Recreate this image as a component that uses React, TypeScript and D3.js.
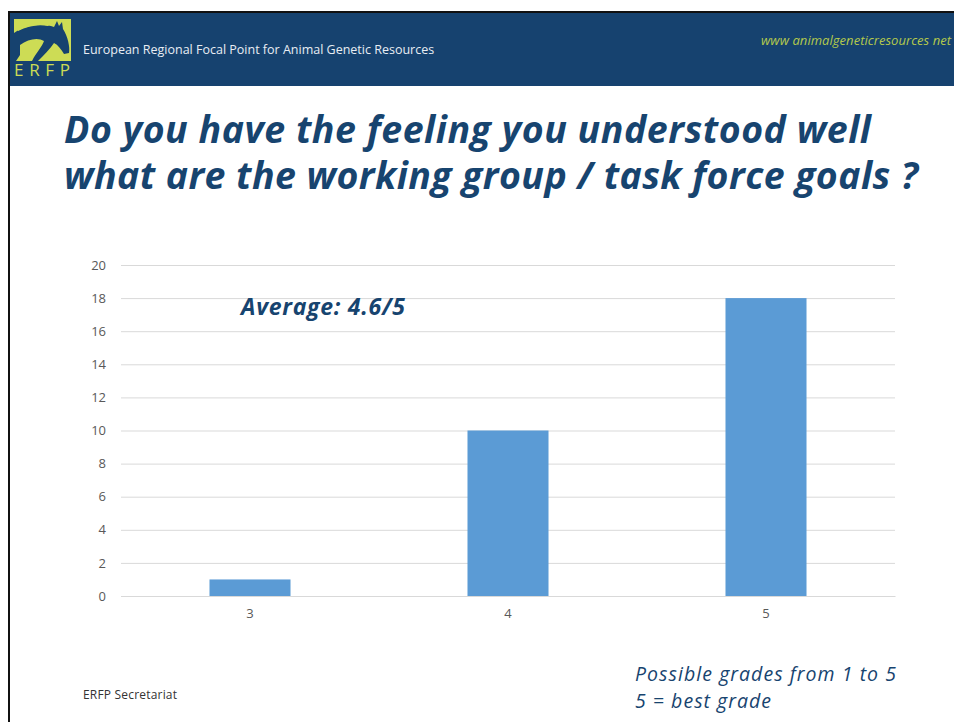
import React, { useEffect, useRef } from 'react';
import * as d3 from 'd3';

const grades = ['3', '4', '5'];
const counts = [1, 10, 18];
const yTicks = [0, 2, 4, 6, 8, 10, 12, 14, 16, 18, 20];
const titleLines = [
  'Do you have the feeling you understood well',
  'what are the working group / task force goals ?',
];
const noteLines = ['Possible grades from 1 to 5', '5 = best grade'];

const W = 954;
const H = 722;
const navy = '#17446f';

const App: React.FC = () => {
  const ref = useRef<SVGSVGElement>(null);

  useEffect(() => {
    if (!ref.current) return;
    const svg = d3.select(ref.current);
    svg.selectAll('*').remove();

    // slide frame
    svg.append('rect').attr('x', 0).attr('y', 0).attr('width', W).attr('height', H).attr('fill', '#fff');
    svg.append('rect').attr('x', 8).attr('y', 11).attr('width', W - 8).attr('height', 2).attr('fill', '#111');
    svg.append('rect').attr('x', 8).attr('y', 11).attr('width', 2).attr('height', H - 11).attr('fill', '#111');

    // header band
    svg.append('rect').attr('x', 10).attr('y', 13).attr('width', W - 10).attr('height', 73).attr('fill', '#16426f');

    // logo
    const logo = svg.append('g').attr('transform', 'translate(14,19)');
    logo.append('rect').attr('width', 57).attr('height', 42).attr('fill', '#cddc55');
    logo.append('path')
      .attr('d', 'M0,14 C12,6 28,4 40,8 L43,2 L45,7 L48,3 L49,10 C54,18 56,28 55,34 L50,35 C47,30 44,26 40,24 C36,30 30,36 24,42 L18,42 C22,34 28,28 30,22 C24,18 14,20 6,26 L6,36 L2,42 L0,42 Z')
      .attr('fill', '#16426f');
    logo.append('path')
      .attr('d', 'M4,10 C14,4 26,2 36,5 L34,7 C24,5 14,7 4,12 Z')
      .attr('fill', '#cddc55');
    logo.append('text')
      .attr('x', 0).attr('y', 57)
      .attr('font-family', 'Open Sans, sans-serif').attr('font-size', 17)
      .attr('textLength', 56).attr('lengthAdjust', 'spacing')
      .attr('fill', '#cddc55')
      .text('ERFP');

    svg.append('text')
      .attr('x', 83).attr('y', 54)
      .attr('font-family', 'Open Sans, sans-serif').attr('font-size', 12.5)
      .attr('fill', '#e8edf3')
      .text('European Regional Focal Point for Animal Genetic Resources');

    svg.append('text')
      .attr('x', 951).attr('y', 45).attr('text-anchor', 'end')
      .attr('font-family', 'Open Sans, sans-serif').attr('font-size', 13)
      .attr('font-style', 'italic').attr('fill', '#b4c94c')
      .attr('textLength', 190).attr('lengthAdjust', 'spacing')
      .text('www animalgeneticresources net');

    // title
    const titleWidths = [807, 854];
    svg.append('g').selectAll('text')
      .data(titleLines)
      .enter().append('text')
      .attr('x', 64).attr('y', (d, i) => 143 + i * 46)
      .attr('font-family', 'Open Sans, sans-serif').attr('font-size', 37.5)
      .attr('font-weight', 'bold').attr('font-style', 'italic')
      .attr('textLength', (d, i) => titleWidths[i]).attr('lengthAdjust', 'spacing')
      .attr('fill', navy)
      .text(d => d);

    // chart
    const x = d3.scaleBand<string>()
      .domain(grades)
      .range([121, 895])
      .paddingInner(0.686)
      .paddingOuter(0.343);

    const y = d3.scaleLinear().domain([0, 20]).range([596, 265]);

    const grid = svg.append('g')
      .attr('transform', 'translate(121,0)')
      .call(d3.axisLeft(y).tickValues(yTicks).tickSize(-774).tickPadding(15).tickFormat(d3.format('d')));
    grid.select('.domain').remove();
    grid.selectAll('.tick line').attr('stroke', '#d9d9d9').attr('stroke-width', 1);
    grid.selectAll('.tick text')
      .attr('fill', '#595959')
      .style('font-family', 'Open Sans, sans-serif')
      .style('font-size', '13px');

    svg.append('g').selectAll('rect')
      .data(counts)
      .enter().append('rect')
      .attr('x', (d, i) => x(grades[i]) || 0)
      .attr('y', d => y(d))
      .attr('width', x.bandwidth())
      .attr('height', d => y(0) - y(d))
      .attr('fill', '#5b9bd5');

    const xa = svg.append('g')
      .attr('transform', 'translate(0,596)')
      .call(d3.axisBottom(x).tickSize(0).tickPadding(13));
    xa.select('.domain').attr('stroke', '#d9d9d9');
    xa.selectAll('.tick text')
      .attr('fill', '#595959')
      .style('font-family', 'Open Sans, sans-serif')
      .style('font-size', '13px');

    svg.append('text')
      .attr('x', 241).attr('y', 315)
      .attr('font-family', 'Open Sans, sans-serif').attr('font-size', 23)
      .attr('font-weight', 'bold').attr('font-style', 'italic')
      .attr('textLength', 164).attr('lengthAdjust', 'spacing')
      .attr('fill', navy)
      .text('Average: 4.6/5');

    // footer
    svg.append('text')
      .attr('x', 83).attr('y', 699)
      .attr('font-family', 'Open Sans, sans-serif').attr('font-size', 12)
      .attr('textLength', 94).attr('lengthAdjust', 'spacing')
      .attr('fill', '#333')
      .text('ERFP Secretariat');

    const noteWidths = [261, 136];
    svg.append('g').selectAll('text')
      .data(noteLines)
      .enter().append('text')
      .attr('x', 635).attr('y', (d, i) => 681 + i * 27)
      .attr('font-family', 'Open Sans, sans-serif').attr('font-size', 19.5)
      .attr('font-style', 'italic')
      .attr('textLength', (d, i) => noteWidths[i]).attr('lengthAdjust', 'spacing')
      .attr('fill', navy)
      .text(d => d);
  }, []);

  return (
    <svg
      ref={ref}
      width={W}
      height={H}
      style={{ position: 'absolute', left: 0, top: 0, display: 'block' }}
    />
  );
};

export default App;
